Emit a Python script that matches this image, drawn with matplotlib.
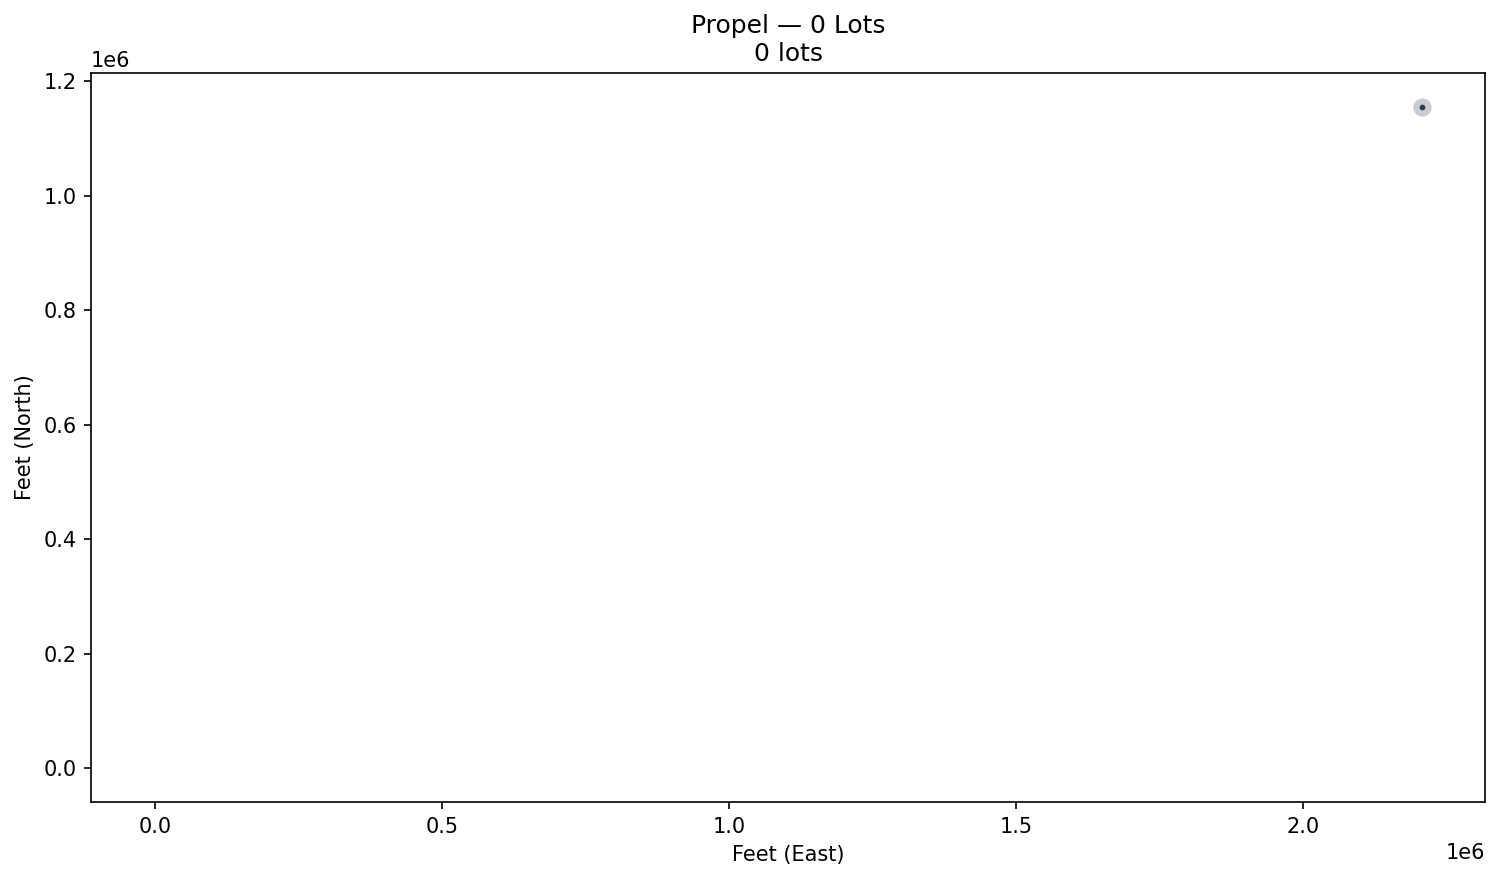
import matplotlib.pyplot as plt

# Lot centroid (feet, state plane) - only one marker drawn
east = [2207000]
north = [1154600]
title_main = 'Propel \u2014 0 Lots'
subtitle = '0 lots'

fig, ax = plt.subplots(figsize=(10.007, 5.867), dpi=150)
fig.subplots_adjust(left=0.0606, right=0.9894, top=0.917, bottom=0.0886)

ax.scatter(east, north, s=60, color='#c8ccd0', zorder=2)
ax.scatter(east, north, s=3, color='#2c3e50', zorder=3)

# extent includes the origin with 5% autoscale margins
ax.set_xlim(-0.1115e6, 2.317e6)
ax.set_ylim(-0.0594e6, 1.214e6)

ax.set_title(title_main + '\n' + subtitle, fontsize=12)
ax.set_xlabel('Feet (East)')
ax.set_ylabel('Feet (North)')

plt.savefig('out.png', dpi=150)
